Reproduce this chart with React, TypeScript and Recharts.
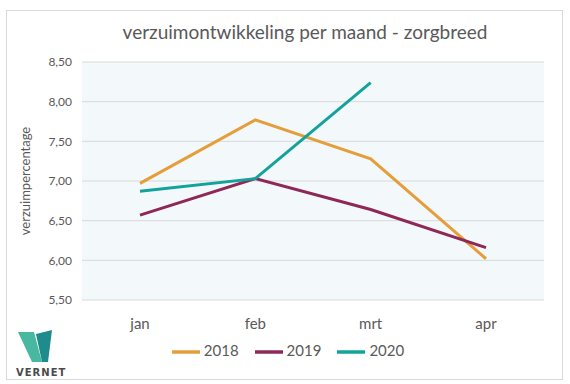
import { LineChart, Line, XAxis, YAxis, CartesianGrid, Legend } from 'recharts';

// ---------------------------------------------------------------------------
// Data
// ---------------------------------------------------------------------------

const months = ['jan', 'feb', 'mrt', 'apr'];
const values2018 = [6.97, 7.77, 7.28, 6.02];
const values2019 = [6.57, 7.03, 6.64, 6.16];
const values2020 = [6.87, 7.03, 8.24, null];
const yTicks = [5.5, 6.0, 6.5, 7.0, 7.5, 8.0, 8.5];

const series = [
  { key: 'y2018', name: '2018', color: '#E59E3A' },
  { key: 'y2019', name: '2019', color: '#8E2858' },
  { key: 'y2020', name: '2020', color: '#13A29C' },
];

const data = months.map((m, i) => ({
  month: m,
  y2018: values2018[i],
  y2019: values2019[i],
  y2020: values2020[i],
}));

const FONT = 'Lato, "Open Sans", sans-serif';
const TEXT = '#595959';

function Logo() {
  return (
    <svg
      width={60}
      height={60}
      style={{ position: 'absolute', left: 12, top: 322 }}
    >
      <polygon points="6,10 22,10 30,40 20,40" fill="#48B8A0" />
      <polygon points="24,12 40,8 36,40 30,40" fill="#1E8C8C" />
      <text
        x={4}
        y={54}
        fontFamily="'DejaVu Sans', sans-serif"
        fontWeight="bold"
        fontSize={10}
        letterSpacing={1}
        fill="#4a4a4a"
      >
        VERNET
      </text>
    </svg>
  );
}

export default function App() {
  return (
    <div
      style={{
        position: 'absolute',
        left: 0,
        top: 0,
        width: 570,
        height: 384,
        background: '#fff',
        fontFamily: FONT,
      }}
    >
      <div
        style={{
          position: 'absolute',
          left: 6,
          top: 10,
          width: 555,
          height: 368,
          border: '1px solid #d9d9d9',
        }}
      />
      <div
        style={{
          position: 'absolute',
          left: 0,
          top: 20,
          width: 610,
          textAlign: 'center',
          fontSize: 19,
          color: TEXT,
        }}
      >
        verzuimontwikkeling per maand - zorgbreed
      </div>
      <div style={{ position: 'absolute', left: 0, top: 0 }}>
        <LineChart
          width={570}
          height={384}
          data={data}
          margin={{ top: 62, right: 26, bottom: 26, left: 0 }}
        >
          <CartesianGrid
            vertical={false}
            stroke="#d9d9d9"
            fill="#F3F8FB"
          />
          <XAxis
            dataKey="month"
            axisLine={false}
            tickLine={false}
            padding={{ left: 58, right: 58 }}
            tick={{ fontSize: 15, fill: TEXT, fontFamily: FONT }}
            tickMargin={12}
          />
          <YAxis
            width={82}
            domain={[5.5, 8.5]}
            ticks={yTicks}
            axisLine={false}
            tickLine={false}
            tickMargin={4}
            tick={{ fontSize: 12, fill: TEXT, fontFamily: FONT }}
            tickFormatter={(v: number) => v.toFixed(2).replace('.', ',')}
            label={{
              value: 'verzuimpercentage',
              angle: -90,
              position: 'insideLeft',
              dx: 20,
              style: { fontSize: 13, fill: TEXT, fontFamily: FONT, textAnchor: 'middle' },
            }}
          />
          <Legend
            verticalAlign="bottom"
            iconType="plainline"
            iconSize={28}
            wrapperStyle={{ bottom: 18, left: 24, fontSize: 15, fontFamily: FONT }}
            formatter={(value: string) => (
              <span style={{ color: TEXT, marginRight: 6 }}>{value}</span>
            )}
          />
          {series.map((s) => (
            <Line
              key={s.key}
              dataKey={s.key}
              name={s.name}
              stroke={s.color}
              strokeWidth={3}
              dot={false}
              isAnimationActive={false}
            />
          ))}
        </LineChart>
      </div>
      <Logo />
    </div>
  );
}
